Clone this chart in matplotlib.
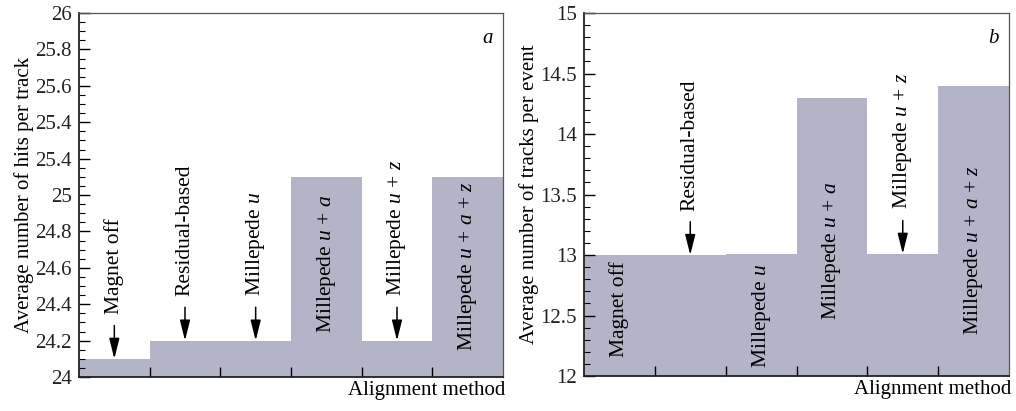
import matplotlib
matplotlib.use("Agg")
import matplotlib.pyplot as plt
from matplotlib.ticker import MultipleLocator, NullFormatter

plt.rcParams['font.family'] = ['Liberation Serif', 'DejaVu Serif']
plt.rcParams['mathtext.fontset'] = 'custom'
plt.rcParams['mathtext.rm'] = 'Liberation Serif'
plt.rcParams['mathtext.it'] = 'Liberation Serif:italic'

# data
methods = ["Magnet off", "Residual-based", "Millepede $u$",
           "Millepede $u$ + $a$", "Millepede $u$ + $z$", "Millepede $u$ + $a$ + $z$"]
hits_per_track = [24.1, 24.2, 24.2, 25.1, 24.2, 25.1]
tracks_per_event = [13.0, 13.0, 13.01, 14.3, 13.01, 14.4]

hits_ticks = [24, 24.2, 24.4, 24.6, 24.8, 25, 25.2, 25.4, 25.6, 25.8, 26]
hits_ticklabels = ["24", "24.2", "24.4", "24.6", "24.8", "25", "25.4", "25.4", "25.6", "25.8", "26"]
tracks_ticks = [12, 12.5, 13, 13.5, 14, 14.5, 15]
tracks_ticklabels = ["12", "12.5", "13", "13.5", "14", "14.5", "15"]

# label placement: None -> arrow above the bar, number -> text centred inside bar at that y
inside_a = [None, None, None, 24.62, None, 24.61]
inside_b = [12.55, None, 12.5, 13.03, None, 13.04]

BAR = "#b4b4c8"
FS = 15
FS_LAB = 15.5


def draw_panel(ax, values, ylim, ticks, ticklabels, minor, ylabel, tag, inside):
    x = list(range(len(values)))
    ax.bar(x, [v - ylim[0] for v in values], bottom=ylim[0], width=1.0,
           color=BAR, edgecolor="none", zorder=1)
    ax.set_xlim(-0.5, len(values) - 0.5)
    ax.set_ylim(*ylim)
    ax.set_yticks(ticks)
    ax.set_yticklabels(ticklabels, fontsize=FS, color="#222222")
    ax.yaxis.set_minor_locator(MultipleLocator(minor))
    ax.set_xticks([i + 0.5 for i in x[:-1]])
    ax.xaxis.set_major_formatter(NullFormatter())
    ax.tick_params(axis="y", which="major", direction="in", length=8, width=1, pad=5)
    ax.tick_params(axis="y", which="minor", direction="in", length=4, width=0.8)
    ax.tick_params(axis="x", which="major", direction="in", length=7, width=1)
    for s in ["left", "bottom"]:
        ax.spines[s].set_linewidth(1.3)
        ax.spines[s].set_color("#222222")
    for s in ["top", "right"]:
        ax.spines[s].set_linewidth(0.9)
        ax.spines[s].set_color("#555555")
    ax.set_ylabel(ylabel, fontsize=FS, labelpad=1)
    ax.text(0.975, 0.93, tag, transform=ax.transAxes, ha="right", va="center",
            fontsize=FS, style="italic")
    ax.text(1.006, -0.01, "Alignment method", transform=ax.transAxes,
            ha="right", va="top", fontsize=FS)

    for i, (lab, v, iy) in enumerate(zip(methods, values, inside)):
        if iy is None:
            ax.annotate(lab, xy=(i, v), xytext=(0, 32), textcoords="offset points",
                        rotation=90, ha="center", va="bottom", fontsize=FS_LAB,
                        arrowprops=dict(arrowstyle="-|>,head_length=0.8,head_width=0.2",
                                        color="black", lw=1.1, shrinkA=6, shrinkB=0))
        else:
            ax.text(i, iy, lab, rotation=90, ha="center", va="center", fontsize=FS_LAB)


fig = plt.figure(figsize=(10.16, 4.11), dpi=100)
ax1 = fig.add_axes([79 / 1016, 34 / 411, 424 / 1016, 364 / 411])
ax2 = fig.add_axes([584 / 1016, 35 / 411, 425 / 1016, 363 / 411])

draw_panel(ax1, hits_per_track, (24, 26), hits_ticks, hits_ticklabels, 0.05,
           "Average number of hits per track", "a", inside_a)
draw_panel(ax2, tracks_per_event, (12, 15), tracks_ticks, tracks_ticklabels, 0.1,
           "Average number of tracks per event", "b", inside_b)

fig.savefig("out.png", dpi=100)
